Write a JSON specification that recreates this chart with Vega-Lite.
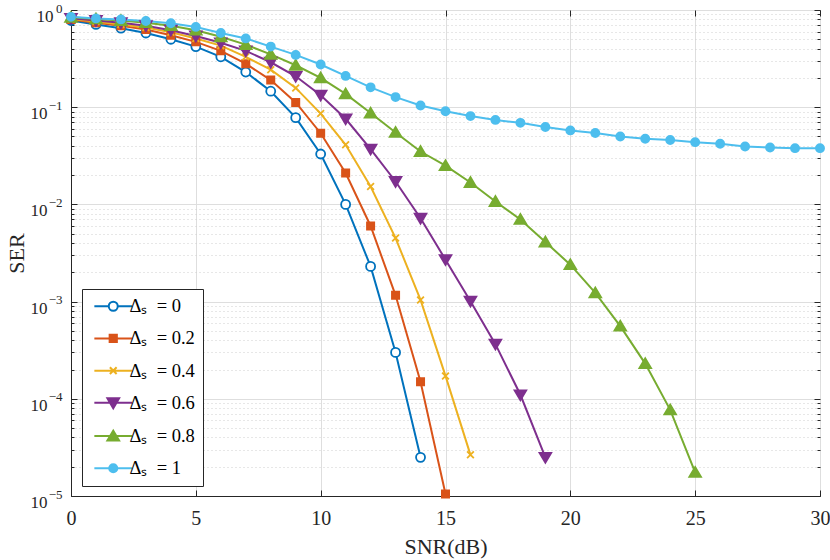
{
  "$schema": "https://vega.github.io/schema/vega-lite/v6.json",
  "width": 749,
  "height": 486,
  "autosize": "none",
  "padding": {"left": 71, "top": 10, "right": 10, "bottom": 64},
  "background": "white",
  "config": {
    "view": {"stroke": "#262626", "strokeWidth": 1},
    "font": "Liberation Serif",
    "axis": {"labelFont": "Liberation Serif", "titleFont": "Liberation Serif", "labelColor": "#262626", "titleColor": "#262626", "domainColor": "#262626", "tickColor": "#262626", "titleFontWeight": "normal", "labelFlush": false, "labelOverlap": false},
    "legend": {
      "orient": "none", "legendX": 11, "legendY": 279,
      "title": null,
      "fillColor": "white", "strokeColor": "#262626", "strokeWidth": 1,
      "padding": 8, "rowPadding": 13.2,
      "labelFont": "Liberation Serif", "labelFontSize": 18.5, "labelColor": "#000000",
      "symbolSize": 81, "symbolStrokeWidth": 2, "labelOffset": 7, "symbolOffset": 14
    }
  },
  "data": {"values": [
    {"snr":0,"ser":0.78,"s":"Δₛ = 0"},{"snr":1,"ser":0.71,"s":"Δₛ = 0"},{"snr":2,"ser":0.65,"s":"Δₛ = 0"},{"snr":3,"ser":0.58,"s":"Δₛ = 0"},{"snr":4,"ser":0.5,"s":"Δₛ = 0"},{"snr":5,"ser":0.42,"s":"Δₛ = 0"},{"snr":6,"ser":0.33,"s":"Δₛ = 0"},{"snr":7,"ser":0.23,"s":"Δₛ = 0"},{"snr":8,"ser":0.146,"s":"Δₛ = 0"},{"snr":9,"ser":0.078,"s":"Δₛ = 0"},{"snr":10,"ser":0.033,"s":"Δₛ = 0"},{"snr":11,"ser":0.01,"s":"Δₛ = 0"},{"snr":12,"ser":0.0023,"s":"Δₛ = 0"},{"snr":13,"ser":0.0003,"s":"Δₛ = 0"},{"snr":14,"ser":0.000025,"s":"Δₛ = 0"},
    {"snr":0,"ser":0.8,"s":"Δₛ = 0.2"},{"snr":1,"ser":0.74,"s":"Δₛ = 0.2"},{"snr":2,"ser":0.69,"s":"Δₛ = 0.2"},{"snr":3,"ser":0.63,"s":"Δₛ = 0.2"},{"snr":4,"ser":0.55,"s":"Δₛ = 0.2"},{"snr":5,"ser":0.47,"s":"Δₛ = 0.2"},{"snr":6,"ser":0.38,"s":"Δₛ = 0.2"},{"snr":7,"ser":0.28,"s":"Δₛ = 0.2"},{"snr":8,"ser":0.19,"s":"Δₛ = 0.2"},{"snr":9,"ser":0.112,"s":"Δₛ = 0.2"},{"snr":10,"ser":0.054,"s":"Δₛ = 0.2"},{"snr":11,"ser":0.021,"s":"Δₛ = 0.2"},{"snr":12,"ser":0.006,"s":"Δₛ = 0.2"},{"snr":13,"ser":0.00116,"s":"Δₛ = 0.2"},{"snr":14,"ser":0.00015,"s":"Δₛ = 0.2"},{"snr":15,"ser":0.0000105,"s":"Δₛ = 0.2"},
    {"snr":0,"ser":0.81,"s":"Δₛ = 0.4"},{"snr":1,"ser":0.76,"s":"Δₛ = 0.4"},{"snr":2,"ser":0.71,"s":"Δₛ = 0.4"},{"snr":3,"ser":0.66,"s":"Δₛ = 0.4"},{"snr":4,"ser":0.59,"s":"Δₛ = 0.4"},{"snr":5,"ser":0.51,"s":"Δₛ = 0.4"},{"snr":6,"ser":0.43,"s":"Δₛ = 0.4"},{"snr":7,"ser":0.33,"s":"Δₛ = 0.4"},{"snr":8,"ser":0.243,"s":"Δₛ = 0.4"},{"snr":9,"ser":0.158,"s":"Δₛ = 0.4"},{"snr":10,"ser":0.086,"s":"Δₛ = 0.4"},{"snr":11,"ser":0.041,"s":"Δₛ = 0.4"},{"snr":12,"ser":0.0153,"s":"Δₛ = 0.4"},{"snr":13,"ser":0.0045,"s":"Δₛ = 0.4"},{"snr":14,"ser":0.00104,"s":"Δₛ = 0.4"},{"snr":15,"ser":0.000172,"s":"Δₛ = 0.4"},{"snr":16,"ser":0.0000265,"s":"Δₛ = 0.4"},
    {"snr":0,"ser":0.82,"s":"Δₛ = 0.6"},{"snr":1,"ser":0.78,"s":"Δₛ = 0.6"},{"snr":2,"ser":0.74,"s":"Δₛ = 0.6"},{"snr":3,"ser":0.69,"s":"Δₛ = 0.6"},{"snr":4,"ser":0.62,"s":"Δₛ = 0.6"},{"snr":5,"ser":0.54,"s":"Δₛ = 0.6"},{"snr":6,"ser":0.46,"s":"Δₛ = 0.6"},{"snr":7,"ser":0.38,"s":"Δₛ = 0.6"},{"snr":8,"ser":0.29,"s":"Δₛ = 0.6"},{"snr":9,"ser":0.208,"s":"Δₛ = 0.6"},{"snr":10,"ser":0.133,"s":"Δₛ = 0.6"},{"snr":11,"ser":0.076,"s":"Δₛ = 0.6"},{"snr":12,"ser":0.037,"s":"Δₛ = 0.6"},{"snr":13,"ser":0.0172,"s":"Δₛ = 0.6"},{"snr":14,"ser":0.0072,"s":"Δₛ = 0.6"},{"snr":15,"ser":0.0027,"s":"Δₛ = 0.6"},{"snr":16,"ser":0.00101,"s":"Δₛ = 0.6"},{"snr":17,"ser":0.000365,"s":"Δₛ = 0.6"},{"snr":18,"ser":0.00011,"s":"Δₛ = 0.6"},{"snr":19,"ser":0.000025,"s":"Δₛ = 0.6"},
    {"snr":0,"ser":0.84,"s":"Δₛ = 0.8"},{"snr":1,"ser":0.81,"s":"Δₛ = 0.8"},{"snr":2,"ser":0.78,"s":"Δₛ = 0.8"},{"snr":3,"ser":0.74,"s":"Δₛ = 0.8"},{"snr":4,"ser":0.69,"s":"Δₛ = 0.8"},{"snr":5,"ser":0.62,"s":"Δₛ = 0.8"},{"snr":6,"ser":0.53,"s":"Δₛ = 0.8"},{"snr":7,"ser":0.44,"s":"Δₛ = 0.8"},{"snr":8,"ser":0.35,"s":"Δₛ = 0.8"},{"snr":9,"ser":0.27,"s":"Δₛ = 0.8"},{"snr":10,"ser":0.2,"s":"Δₛ = 0.8"},{"snr":11,"ser":0.137,"s":"Δₛ = 0.8"},{"snr":12,"ser":0.087,"s":"Δₛ = 0.8"},{"snr":13,"ser":0.055,"s":"Δₛ = 0.8"},{"snr":14,"ser":0.035,"s":"Δₛ = 0.8"},{"snr":15,"ser":0.025,"s":"Δₛ = 0.8"},{"snr":16,"ser":0.0168,"s":"Δₛ = 0.8"},{"snr":17,"ser":0.0107,"s":"Δₛ = 0.8"},{"snr":18,"ser":0.007,"s":"Δₛ = 0.8"},{"snr":19,"ser":0.0041,"s":"Δₛ = 0.8"},{"snr":20,"ser":0.0024,"s":"Δₛ = 0.8"},{"snr":21,"ser":0.00123,"s":"Δₛ = 0.8"},{"snr":22,"ser":0.00056,"s":"Δₛ = 0.8"},{"snr":23,"ser":0.00023,"s":"Δₛ = 0.8"},{"snr":24,"ser":0.000077,"s":"Δₛ = 0.8"},{"snr":25,"ser":0.0000175,"s":"Δₛ = 0.8"},
    {"snr":0,"ser":0.85,"s":"Δₛ = 1"},{"snr":1,"ser":0.82,"s":"Δₛ = 1"},{"snr":2,"ser":0.8,"s":"Δₛ = 1"},{"snr":3,"ser":0.77,"s":"Δₛ = 1"},{"snr":4,"ser":0.73,"s":"Δₛ = 1"},{"snr":5,"ser":0.67,"s":"Δₛ = 1"},{"snr":6,"ser":0.58,"s":"Δₛ = 1"},{"snr":7,"ser":0.51,"s":"Δₛ = 1"},{"snr":8,"ser":0.42,"s":"Δₛ = 1"},{"snr":9,"ser":0.345,"s":"Δₛ = 1"},{"snr":10,"ser":0.275,"s":"Δₛ = 1"},{"snr":11,"ser":0.21,"s":"Δₛ = 1"},{"snr":12,"ser":0.16,"s":"Δₛ = 1"},{"snr":13,"ser":0.127,"s":"Δₛ = 1"},{"snr":14,"ser":0.104,"s":"Δₛ = 1"},{"snr":15,"ser":0.091,"s":"Δₛ = 1"},{"snr":16,"ser":0.081,"s":"Δₛ = 1"},{"snr":17,"ser":0.074,"s":"Δₛ = 1"},{"snr":18,"ser":0.069,"s":"Δₛ = 1"},{"snr":19,"ser":0.0625,"s":"Δₛ = 1"},{"snr":20,"ser":0.0577,"s":"Δₛ = 1"},{"snr":21,"ser":0.0542,"s":"Δₛ = 1"},{"snr":22,"ser":0.05,"s":"Δₛ = 1"},{"snr":23,"ser":0.0473,"s":"Δₛ = 1"},{"snr":24,"ser":0.0459,"s":"Δₛ = 1"},{"snr":25,"ser":0.0437,"s":"Δₛ = 1"},{"snr":26,"ser":0.042,"s":"Δₛ = 1"},{"snr":27,"ser":0.0394,"s":"Δₛ = 1"},{"snr":28,"ser":0.0385,"s":"Δₛ = 1"},{"snr":29,"ser":0.0379,"s":"Δₛ = 1"},{"snr":30,"ser":0.0379,"s":"Δₛ = 1"}
  ]},
  "resolve": {
    "scale": {"stroke": "independent", "fill": "independent", "shape": "independent"},
    "axis": {"x": "independent", "y": "independent"},
    "legend": {"stroke": "independent", "fill": "independent", "shape": "independent"}
  },
  "layer": [
    {
      "mark": {"type": "line", "strokeWidth": 2},
      "encoding": {
        "x": {"field": "snr", "type": "quantitative", "scale": {"domain": [0, 30], "nice": false},
          "axis": {"orient": "bottom", "values": [0,5,10,15,20,25,30], "title": "SNR(dB)", "titleFont": "Liberation Serif", "titleFontSize": 22, "titlePadding": 8, "labelFont": "Liberation Serif", "labelFontSize": 20, "labelPadding": 18, "tickSize": -6, "grid": true, "gridColor": "#dedede", "gridWidth": 1, "domainWidth": 1}},
        "y": {"field": "ser", "type": "quantitative", "scale": {"type": "log", "domain": [0.00001, 1], "nice": false},
          "axis": {"orient": "left", "values": [1, 0.1, 0.01, 0.001, 0.0001, 0.00001], "title": "SER", "titleFont": "Liberation Serif", "titleFontSize": 22, "titlePadding": 2, "labelFont": "Liberation Serif", "labelFontSize": 17,
            "labelPadding": 30, "labelBaseline": "alphabetic", "labelOffset": 11.5,
            "tickSize": -6, "grid": true, "gridColor": "#dedede", "gridWidth": 1,
            "labelExpr": "datum.value == 1 ? '' : '10'"}},
        "stroke": {"field": "s", "type": "nominal", "legend": null,
          "scale": {"domain": ["Δₛ = 0","Δₛ = 0.2","Δₛ = 0.4","Δₛ = 0.6","Δₛ = 0.8","Δₛ = 1"], "range": ["#0072BD","#D95319","#EDB120","#7E2F8E","#77AC30","#4DBEEE"]}}
      }
    },
    {
      "mark": {"type": "point", "size": 81, "strokeWidth": 1.8, "opacity": 1},
      "encoding": {
        "x": {"field": "snr", "type": "quantitative", "axis": {"orient": "top", "values": [0,5,10,15,20,25,30], "labels": false, "title": null, "tickSize": -6, "grid": false, "domain": false}},
        "y": {"field": "ser", "type": "quantitative", "axis": {"orient": "right", "values": [1, 0.1, 0.01, 0.001, 0.0001, 0.00001], "labels": false, "title": null, "tickSize": -6, "grid": false, "domain": false}},
        "stroke": {"field": "s", "type": "nominal", "legend": null,
          "scale": {"domain": ["Δₛ = 0","Δₛ = 0.2","Δₛ = 0.4","Δₛ = 0.6","Δₛ = 0.8","Δₛ = 1"], "range": ["#0072BD","#D95319","#EDB120","#7E2F8E","#77AC30","#4DBEEE"]}},
        "fill": {"field": "s", "type": "nominal", "legend": null,
          "scale": {"domain": ["Δₛ = 0","Δₛ = 0.2","Δₛ = 0.4","Δₛ = 0.6","Δₛ = 0.8","Δₛ = 1"], "range": ["#ffffff","#D95319","#EDB120","#7E2F8E","#77AC30","#4DBEEE"]}},
        "shape": {"field": "s", "type": "nominal", "legend": null,
          "scale": {"domain": ["Δₛ = 0","Δₛ = 0.2","Δₛ = 0.4","Δₛ = 0.6","Δₛ = 0.8","Δₛ = 1"], "range": [
            "M-1,0A1,1 0 1,0 1,0A1,1 0 1,0 -1,0Z",
            "M-0.8,-0.8L0.8,-0.8L0.8,0.8L-0.8,0.8Z",
            "M-0.75,-0.75L0.75,0.75M-0.75,0.75L0.75,-0.75",
            "M-1.3,-1L1.3,-1L0,1.2Z",
            "M-1.3,1L1.3,1L0,-1.2Z",
            "M-0.9,0A0.9,0.9 0 1,0 0.9,0A0.9,0.9 0 1,0 -0.9,0Z"]}}
      }
    },
    {
      "transform": [{"filter": "datum.snr > 100"}],
      "mark": {"type": "point", "size": 81, "strokeWidth": 2, "opacity": 1},
      "encoding": {
        "x": {"field": "snr", "type": "quantitative", "axis": null},
        "y": {"field": "ser", "type": "quantitative", "axis": {"orient": "left", "values": [0.9,0.8,0.7,0.6,0.5,0.4,0.3,0.2,0.09,0.08,0.07,0.06,0.05,0.04,0.03,0.02,0.009,0.008,0.007,0.006,0.005,0.004,0.003,0.002,0.0009,0.0008,0.0007,0.0006,0.0005,0.0004,0.0003,0.0002,0.00009,0.00008,0.00007,0.00006,0.00005,0.00004,0.00003,0.00002], "labels": false, "title": null, "tickSize": -3, "grid": true, "gridColor": "#cfcfcf", "gridDash": [1, 3], "gridWidth": 1, "domain": false}},
        "stroke": {"field": "s", "type": "nominal",
          "scale": {"domain": ["Δₛ = 0","Δₛ = 0.2","Δₛ = 0.4","Δₛ = 0.6","Δₛ = 0.8","Δₛ = 1"], "range": ["#0072BD","#D95319","#EDB120","#7E2F8E","#77AC30","#4DBEEE"]}},
        "fill": {"field": "s", "type": "nominal",
          "scale": {"domain": ["Δₛ = 0","Δₛ = 0.2","Δₛ = 0.4","Δₛ = 0.6","Δₛ = 0.8","Δₛ = 1"], "range": ["#ffffff","#D95319","#EDB120","#7E2F8E","#77AC30","#4DBEEE"]}},
        "shape": {"field": "s", "type": "nominal",
          "legend": {"labelExpr": "replace(datum.label, ' =', '\u2002=')"},
          "scale": {"domain": ["Δₛ = 0","Δₛ = 0.2","Δₛ = 0.4","Δₛ = 0.6","Δₛ = 0.8","Δₛ = 1"], "range": [
            "M-4.2,0L-1,0M1,0L4.2,0M-1,0A1,1 0 1,0 1,0A1,1 0 1,0 -1,0Z",
            "M-4.2,0L4.2,0M-0.8,-0.8L0.8,-0.8L0.8,0.8L-0.8,0.8Z",
            "M-4.2,0L4.2,0M-0.75,-0.75L0.75,0.75M-0.75,0.75L0.75,-0.75",
            "M-4.2,0L4.2,0M-1.3,-1L1.3,-1L0,1.2Z",
            "M-4.2,0L4.2,0M-1.3,1L1.3,1L0,-1.2Z",
            "M-4.2,0L4.2,0M-0.9,0A0.9,0.9 0 1,0 0.9,0A0.9,0.9 0 1,0 -0.9,0Z"]}}
      }
    },
    {
      "transform": [{"filter": "datum.snr > 100"}],
      "mark": {"type": "point", "opacity": 0},
      "encoding": {
        "x": {"field": "snr", "type": "quantitative", "axis": null},
        "y": {"field": "ser", "type": "quantitative", "axis": {"orient": "left", "values": [1, 0.1, 0.01, 0.001, 0.0001, 0.00001], "title": null, "ticks": false, "tickSize": 0, "grid": false, "domain": false,
          "labelFont": "Liberation Serif", "labelFontSize": 13, "labelPadding": 9, "labelBaseline": "alphabetic", "labelOffset": 2,
          "labelExpr": "datum.value == 1 ? '0' : '\u2212' + (-round(log(datum.value)/LN10))"}}
      }
    },
    {
      "transform": [{"filter": "datum.snr > 100"}],
      "mark": {"type": "point", "opacity": 0},
      "encoding": {
        "x": {"field": "snr", "type": "quantitative", "axis": null},
        "y": {"field": "ser", "type": "quantitative", "axis": {"orient": "left", "values": [1], "title": null, "ticks": false, "tickSize": 0, "grid": false, "domain": false,
          "labelFont": "Liberation Serif", "labelFontSize": 17, "labelPadding": 18, "labelBaseline": "alphabetic", "labelOffset": 11.5,
          "labelExpr": "'10'"}}
      }
    },
    {
      "transform": [{"filter": "datum.snr > 100"}],
      "mark": {"type": "point", "opacity": 0},
      "encoding": {
        "x": {"field": "snr", "type": "quantitative", "axis": null},
        "y": {"field": "ser", "type": "quantitative", "axis": {"orient": "right", "values": [0.9,0.8,0.7,0.6,0.5,0.4,0.3,0.2,0.09,0.08,0.07,0.06,0.05,0.04,0.03,0.02,0.009,0.008,0.007,0.006,0.005,0.004,0.003,0.002,0.0009,0.0008,0.0007,0.0006,0.0005,0.0004,0.0003,0.0002,0.00009,0.00008,0.00007,0.00006,0.00005,0.00004,0.00003,0.00002], "labels": false, "title": null, "tickSize": -3, "grid": false, "domain": false}}
      }
    }
  ]
}
